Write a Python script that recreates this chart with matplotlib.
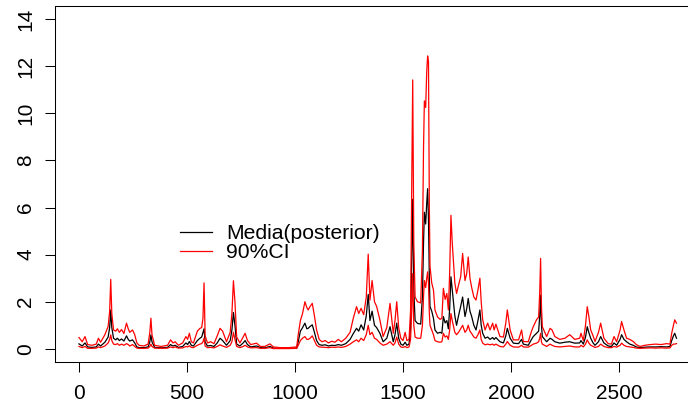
import matplotlib
matplotlib.use( 'Agg' )
import matplotlib.pyplot as plt

# values (index, lower 5%, median, upper 95%)
t = [ 0,15,28,40,60,80,90,100,120,135,142,147,152,160,170,178,187,197,208,220,
      228,235,248,258,268,278,300,320,328,333,338,350,380,410,424,435,445,460,480,495,
      503,511,520,530,548,560,568,574,579,584,595,610,625,640,653,665,683,700,708,715,
      722,730,745,760,769,780,795,822,840,860,884,900,930,970,1008,1015,1025,1035,1046,1055,
      1061,1070,1080,1090,1100,1112,1125,1140,1155,1170,1185,1200,1215,1235,1255,1270,1285,1295,1306,1318,
      1330,1339,1347,1357,1368,1378,1393,1408,1425,1440,1455,1463,1471,1480,1490,1500,1510,1518,1528,1535,
      1540,1545,1550,1556,1567,1582,1590,1595,1599,1605,1610,1614,1618,1622,1625,1633,1641,1648,1660,1672,
      1680,1687,1695,1703,1710,1716,1722,1728,1733,1740,1748,1757,1767,1776,1787,1795,1802,1810,1818,1828,
      1838,1847,1856,1862,1869,1880,1892,1903,1915,1922,1930,1949,1965,1976,1983,1996,2011,2035,2049,2057,
      2080,2095,2103,2118,2128,2133,2137,2141,2145,2165,2181,2190,2203,2226,2250,2272,2295,2318,2324,2335,
      2345,2353,2360,2369,2380,2389,2405,2415,2430,2450,2465,2477,2489,2505,2512,2523,2535,2550,2566,2580,
      2597,2620,2645,2670,2695,2720,2736,2744,2752,2758,2766 ]

lower = [ 0.10,0.05,0.10,0.02,0.02,0.03,0.08,0.05,0.12,0.25,0.40,0.59,0.35,0.20,0.18,0.22,0.15,0.20,0.15,0.22,
          0.18,0.12,0.18,0.10,0.03,0.02,0.02,0.03,0.10,0.20,0.10,0.03,0.02,0.03,0.08,0.05,0.08,0.03,0.04,0.10,
          0.08,0.13,0.06,0.05,0.15,0.20,0.22,0.30,0.45,0.12,0.05,0.06,0.04,0.10,0.17,0.12,0.06,0.15,0.30,0.70,
          0.40,0.10,0.05,0.10,0.15,0.08,0.04,0.05,0.02,0.02,0.05,0.01,0.01,0.01,0.02,0.15,0.35,0.45,0.52,0.40,
          0.40,0.45,0.55,0.35,0.15,0.08,0.07,0.06,0.05,0.07,0.06,0.08,0.06,0.10,0.20,0.30,0.38,0.30,0.45,0.35,
          0.60,1.00,0.60,0.70,0.45,0.40,0.25,0.15,0.20,0.30,0.15,0.25,0.50,0.20,0.08,0.06,0.10,0.05,0.08,0.40,
          1.50,3.20,1.00,0.50,0.45,0.45,1.00,2.20,2.90,2.60,3.00,3.27,2.80,1.50,1.00,0.80,0.60,0.35,0.30,0.28,
          0.30,0.66,0.50,0.55,0.40,0.80,1.50,1.20,1.00,0.70,0.60,0.70,0.85,1.00,0.70,0.80,1.00,0.75,0.65,0.50,
          0.45,0.60,0.80,0.40,0.24,0.17,0.20,0.17,0.20,0.15,0.20,0.10,0.08,0.20,0.31,0.15,0.08,0.07,0.15,0.08,
          0.07,0.15,0.20,0.24,0.30,0.45,0.66,0.30,0.20,0.10,0.20,0.15,0.10,0.08,0.10,0.12,0.08,0.08,0.15,0.08,
          0.20,0.38,0.25,0.15,0.10,0.06,0.10,0.20,0.10,0.05,0.05,0.10,0.07,0.15,0.24,0.15,0.10,0.08,0.06,0.03,
          0.02,0.03,0.04,0.03,0.04,0.03,0.04,0.15,0.20,0.20,0.22 ]

median = [ 0.21,0.12,0.25,0.08,0.06,0.08,0.20,0.12,0.28,0.50,0.90,1.65,0.90,0.45,0.38,0.45,0.35,0.42,0.33,0.55,
           0.40,0.33,0.38,0.25,0.08,0.05,0.05,0.08,0.30,0.59,0.30,0.06,0.04,0.06,0.18,0.12,0.15,0.06,0.10,0.25,
           0.18,0.31,0.15,0.12,0.35,0.45,0.50,0.70,0.85,0.28,0.12,0.14,0.10,0.25,0.45,0.35,0.15,0.35,0.80,1.54,
           1.00,0.20,0.12,0.25,0.35,0.18,0.08,0.12,0.05,0.04,0.10,0.03,0.02,0.02,0.03,0.30,0.75,0.90,1.09,0.85,
           0.87,0.95,1.02,0.70,0.35,0.18,0.15,0.17,0.12,0.15,0.14,0.18,0.15,0.22,0.40,0.65,0.87,0.75,1.02,0.80,
           1.40,2.31,1.20,1.60,1.00,0.90,0.66,0.30,0.45,0.94,0.30,0.60,1.09,0.45,0.20,0.15,0.28,0.15,0.20,0.90,
           3.50,6.35,2.50,1.20,1.08,1.05,2.20,4.50,5.80,5.30,6.20,6.80,5.50,3.00,1.80,1.60,1.30,0.80,0.66,0.70,
           0.66,1.37,1.10,1.20,0.85,1.70,3.06,2.50,2.07,1.40,1.00,1.40,1.80,2.20,1.37,1.70,2.14,1.60,1.37,1.00,
           0.80,1.20,1.65,1.00,0.66,0.45,0.50,0.40,0.48,0.40,0.48,0.30,0.25,0.55,0.87,0.45,0.24,0.22,0.40,0.20,
           0.15,0.40,0.52,0.66,0.75,1.40,2.28,1.00,0.52,0.30,0.45,0.40,0.30,0.24,0.28,0.30,0.24,0.25,0.35,0.20,
           0.50,0.94,0.70,0.45,0.25,0.15,0.30,0.52,0.25,0.12,0.10,0.25,0.15,0.40,0.60,0.40,0.30,0.20,0.15,0.08,
           0.05,0.07,0.08,0.08,0.09,0.08,0.10,0.35,0.55,0.66,0.45 ]

upper = [ 0.48,0.30,0.52,0.18,0.15,0.20,0.45,0.28,0.60,0.95,1.60,2.95,1.50,0.80,0.75,0.85,0.70,0.82,0.65,1.09,
          0.85,0.70,0.80,0.60,0.25,0.15,0.12,0.20,0.70,1.30,0.60,0.15,0.10,0.15,0.38,0.25,0.30,0.15,0.25,0.52,
          0.40,0.66,0.30,0.25,0.75,0.87,0.90,1.30,2.80,0.55,0.25,0.30,0.22,0.55,0.87,0.75,0.30,0.70,1.50,2.89,
          2.00,0.50,0.25,0.50,0.66,0.35,0.18,0.24,0.10,0.10,0.21,0.08,0.05,0.05,0.08,0.60,1.20,1.50,2.00,1.75,
          1.65,1.80,1.93,1.40,0.80,0.40,0.30,0.35,0.25,0.32,0.28,0.40,0.30,0.45,0.70,1.30,1.79,1.50,1.72,1.45,
          2.20,4.02,2.07,2.90,2.00,1.80,1.23,0.52,0.90,1.93,0.66,1.20,2.00,0.90,0.45,0.35,0.70,0.35,0.40,1.60,
          6.50,11.42,4.50,2.20,2.00,1.95,4.20,8.50,10.53,10.25,11.80,12.44,12.20,6.00,3.50,2.80,2.50,1.65,1.35,1.25,
          1.30,2.57,2.10,2.35,1.65,3.20,5.67,4.50,3.76,2.80,2.35,2.70,3.06,4.05,2.90,3.20,3.90,3.00,2.60,2.20,
          2.07,2.50,3.00,2.00,1.23,0.80,1.09,0.80,1.09,0.80,1.05,0.52,0.50,1.10,1.65,0.80,0.38,0.38,0.80,0.31,
          0.30,0.75,0.94,1.23,1.35,2.40,3.84,1.80,0.94,0.52,0.87,0.80,0.52,0.40,0.45,0.60,0.40,0.45,0.66,0.35,
          1.00,1.79,1.40,0.80,0.55,0.31,0.70,1.09,0.45,0.22,0.20,0.52,0.30,0.80,1.16,0.80,0.45,0.40,0.31,0.18,
          0.10,0.15,0.18,0.20,0.18,0.22,0.20,0.66,1.00,1.23,1.09 ]

xticks = [ 0,500,1000,1500,2000,2500 ]
yticks = [ 0,2,4,6,8,10,12,14 ]

plt.rcParams[ 'font.family' ] = [ 'Liberation Sans','DejaVu Sans' ]

fig = plt.figure( figsize=( 6.88,4.08 ),dpi=100 )
# plot region runs past the right edge, as in the reference crop
ax = fig.add_axes( [ 55/688,46/408,653/688,356/408 ] )

ax.plot( t,median,color='black',lw=0.9,label='Media(posterior)' )
ax.plot( t,lower,color='red',lw=0.9,label='90%CI' )
ax.plot( t,upper,color='red',lw=0.9 )

ax.set_xlim( -111,2912 )
ax.set_ylim( -0.56,14.56 )
ax.set_xticks( xticks )
ax.set_yticks( yticks )
ax.set_xticklabels( [ str( v ) for v in xticks ] )
ax.set_yticklabels( [ str( v ) for v in yticks ],rotation=90,va='center' )
ax.tick_params( axis='x',length=7.2,width=0.75,pad=8.5,labelsize=15 )
ax.tick_params( axis='y',length=7.2,width=0.75,pad=7,labelsize=15 )
for sp in ax.spines.values():
    sp.set_linewidth( 0.75 )

ax.legend( loc='upper left',bbox_to_anchor=( 180/688,1-224/408 ),bbox_transform=fig.transFigure,
           frameon=False,fontsize=15.2,handlelength=1.5,handletextpad=0.7,labelspacing=0.0,
           borderpad=0,borderaxespad=0 )

fig.savefig( 'out.png',dpi=100 )
